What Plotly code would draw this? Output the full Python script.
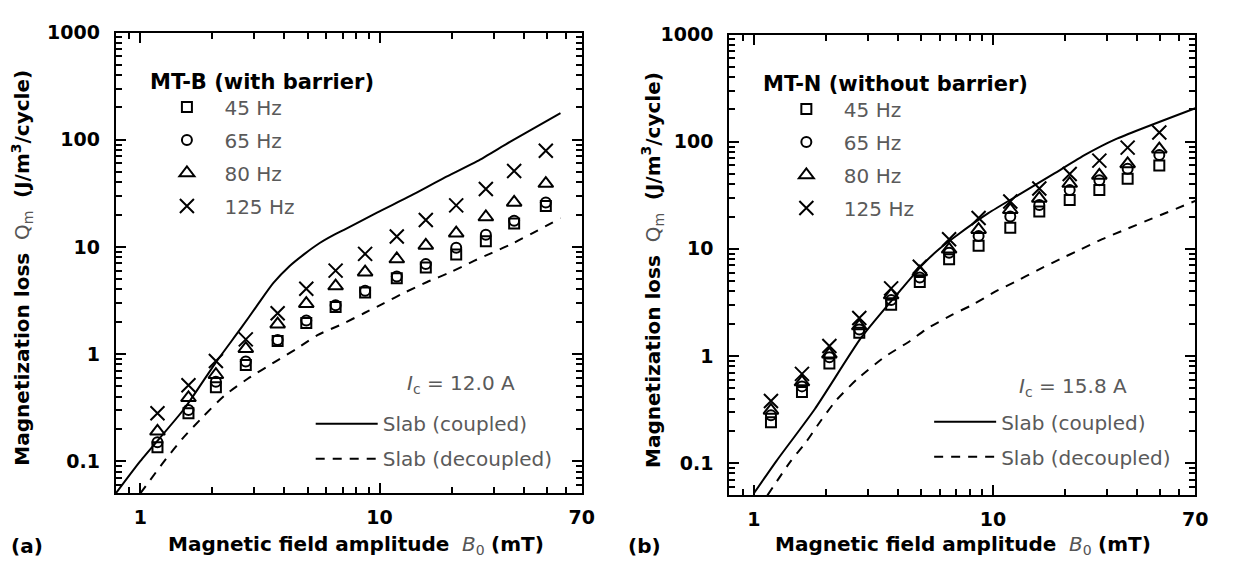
import math
import plotly.graph_objects as go

# ---------------- data ----------------
B0 = [1.18, 1.59, 2.07, 2.76, 3.75, 4.94, 6.55, 8.7, 11.8, 15.6, 20.9, 27.8, 36.5, 49.5]

# (a) MT-B (with barrier)
qa_45 = [0.135, 0.28, 0.49, 0.79, 1.32, 1.95, 2.75, 3.75, 5.1, 6.4, 8.5, 11.3, 16.5, 24]
qa_65 = [0.15, 0.30, 0.55, 0.85, 1.35, 2.05, 2.85, 3.9, 5.3, 6.9, 9.8, 13, 17.5, 26]
qa_80 = [0.19, 0.39, 0.64, 1.12, 1.9, 2.95, 4.3, 5.8, 7.7, 10.3, 13.4, 19, 26, 39]
qa_125 = [0.28, 0.51, 0.86, 1.37, 2.4, 4.07, 6.0, 8.6, 12.5, 17.8, 24.4, 34.7, 51, 79]

ca_x = [0.79, 1.0, 1.53, 2.05, 2.64, 3.1, 3.6, 4.2, 4.86, 5.6, 6.47, 7.1, 9.8, 13.5, 18.6, 25.6, 35.2, 57]
ca_y = [0.05, 0.10, 0.31, 0.81, 1.75, 2.9, 4.6, 6.6, 8.6, 10.8, 13.0, 14.4, 21, 30, 44, 63, 96, 177]
da_x = [1.0, 1.08, 1.26, 1.51, 1.83, 2.25, 2.82, 3.64, 4.5, 5.5, 6.9, 8.6, 10.4, 12.9, 15.8, 19.8, 24.8, 29.5, 36.4, 57]
da_y = [0.05, 0.063, 0.10, 0.165, 0.26, 0.41, 0.59, 0.84, 1.12, 1.5, 1.88, 2.4, 2.97, 3.8, 4.7, 5.8, 7.4, 8.8, 10.9, 18.5]

# (b) MT-N (without barrier)
qb_45 = [0.24, 0.46, 0.85, 1.65, 3.0, 4.9, 8.0, 10.7, 15.7, 22.3, 28.6, 35.3, 45, 60]
qb_65 = [0.28, 0.52, 0.97, 1.77, 3.33, 5.4, 9.2, 13.2, 20, 25.7, 35.3, 43.6, 56, 75]
qb_80 = [0.31, 0.57, 1.04, 1.9, 3.7, 6.06, 9.9, 15.1, 23.1, 29.5, 40.6, 48.4, 62, 85]
qb_125 = [0.38, 0.68, 1.24, 2.26, 4.27, 6.8, 12.3, 19.4, 27.6, 36.5, 50, 66.5, 88, 122]

cb_x = [1.0, 1.245, 1.8, 2.81, 3.73, 4.1, 5.1, 5.97, 6.98, 9.55, 13.1, 17.9, 24.4, 32.4, 70]
cb_y = [0.052, 0.105, 0.32, 1.48, 3.2, 4.1, 7.2, 10.0, 13.1, 21.5, 32.9, 50, 76, 105, 205]
db_x = [1.14, 1.43, 1.65, 1.9, 2.22, 2.72, 3.5, 4.5, 5.3, 6.76, 8.2, 10.2, 12.3, 15.3, 19, 23.3, 28.6, 70]
db_y = [0.05, 0.105, 0.156, 0.246, 0.39, 0.615, 0.97, 1.38, 1.8, 2.43, 3.0, 3.98, 4.9, 6.3, 8.0, 9.9, 12.3, 28]

series_names = ["45 Hz", "65 Hz", "80 Hz", "125 Hz"]
curve_names = ["Slab (coupled)", "Slab (decoupled)"]
panel_titles = ["MT-B (with barrier)", "MT-N (without barrier)"]
ic_labels = ["<i>I</i><sub>c</sub> = 12.0 A", "<i>I</i><sub>c</sub> = 15.8 A"]

x_ticks = [1, 10, 70]
x_ticktext = ["1", "10", "70"]
x_minor = [0.9, 2, 3, 4, 5, 6, 7, 8, 9, 20, 30, 40, 50, 60]
y_ticks = [0.1, 1, 10, 100, 1000]
y_ticktext = ["0.1", "1", "10", "100", "1000"]
y_minor = [0.06, 0.07, 0.08, 0.09] + [m * d for d in (0.1, 1, 10, 100) for m in range(2, 10)]

# ---------------- style ----------------
W, H = 1239, 563
F = "DejaVu Sans"
GRAY = "#5a5a5a"
symbols = ["square-open", "circle-open", "triangle-up-open", "x-thin-open"]
sizes = [10, 10, 13, 14]


def px(x):
    return x / W


def py(y):
    return 1 - y / H


fig = go.Figure()

panels = [
    dict(tag="a", xa="x", ya="y", ser=[qa_45, qa_65, qa_80, qa_125], cx=ca_x, cy=ca_y, dx=da_x, dy=da_y,
         leg="legend", leg2="legend3"),
    dict(tag="b", xa="x2", ya="y2", ser=[qb_45, qb_65, qb_80, qb_125], cx=cb_x, cy=cb_y, dx=db_x, dy=db_y,
         leg="legend2", leg2="legend4"),
]

for p in panels:
    for name, vals, sym, sz in zip(series_names, p["ser"], symbols, sizes):
        fig.add_trace(go.Scatter(
            x=B0, y=vals, mode="markers", name=name, xaxis=p["xa"], yaxis=p["ya"],
            legend=p["leg"], legendgroup=p["tag"] + name,
            marker=dict(symbol=sym, size=sz, color="black", line=dict(color="black", width=2)),
        ))
    fig.add_trace(go.Scatter(
        x=p["cx"], y=p["cy"], mode="lines", name=curve_names[0], xaxis=p["xa"], yaxis=p["ya"],
        legend=p["leg2"], legendgroup=p["tag"] + "c",
        line=dict(color="black", width=2, shape="spline", smoothing=0.6),
    ))
    fig.add_trace(go.Scatter(
        x=p["dx"], y=p["dy"], mode="lines", name=curve_names[1], xaxis=p["xa"], yaxis=p["ya"],
        legend=p["leg2"], legendgroup=p["tag"] + "d",
        line=dict(color="black", width=2, dash="9px,8px", shape="spline", smoothing=0.6),
    ))


def xaxis_cfg(d0, d1, anchor):
    return dict(
        type="log", range=[math.log10(0.79), math.log10(70)], domain=[px(d0), px(d1)], anchor=anchor,
        showline=True, linecolor="black", linewidth=2, mirror="allticks",
        ticks="inside", ticklen=10, tickwidth=2, tickcolor="black",
        tickmode="array", tickvals=x_ticks, ticktext=x_ticktext,
        tickfont=dict(family=F, size=19, color="black", weight="bold"),
        ticklabelstandoff=6,
        showgrid=False, zeroline=False,
        minor=dict(tickmode="array", tickvals=x_minor, ticks="inside", ticklen=6, tickwidth=1.5,
                   tickcolor="black", showgrid=False),
    )


def yaxis_cfg(top, bottom, anchor):
    return dict(
        type="log", range=[math.log10(0.05), 3], domain=[py(bottom), py(top)], anchor=anchor,
        showline=True, linecolor="black", linewidth=2, mirror="allticks",
        ticks="inside", ticklen=10, tickwidth=2, tickcolor="black",
        tickmode="array", tickvals=y_ticks, ticktext=y_ticktext,
        tickfont=dict(family=F, size=19, color="black", weight="bold"),
        ticklabelstandoff=10,
        showgrid=False, zeroline=False,
        minor=dict(tickmode="array", tickvals=y_minor, ticks="inside", ticklen=6, tickwidth=1.5,
                   tickcolor="black", showgrid=False),
    )


def make_legend(x, y, itemwidth, gap):
    return dict(
        x=px(x), y=py(y), xanchor="left", yanchor="top", xref="paper", yref="paper",
        bgcolor="rgba(0,0,0,0)", borderwidth=0,
        font=dict(family=F, size=20, color=GRAY),
        tracegroupgap=gap, itemwidth=itemwidth, traceorder="grouped",
    )


annotations = []


def add_text(x, y, text, size=20, color="black", xanchor="center", angle=0):
    annotations.append(dict(
        x=px(x), y=py(y), xref="paper", yref="paper", text=text, showarrow=False,
        xanchor=xanchor, yanchor="middle", textangle=angle,
        font=dict(family=F, size=size, color=color),
    ))


ytitle = ("<b>Magnetization loss</b>  <span style='color:#555'>Q<sub>m</sub></span>  "
          "<b>(J/m<sup>3</sup>/cycle)</b>")
xtitle = ("<b>Magnetic field amplitude</b>  <span style='color:#555'><i>B</i><sub>0</sub></span> "
          "<b>(mT)</b>")

add_text(23, 262, ytitle, angle=-90)
add_text(660, 264, ytitle, angle=-90)
add_text(360, 545, xtitle)
add_text(973, 545, xtitle)
add_text(27, 546, "<b>(a)</b>")
add_text(651, 546, "<b>(b)</b>")
add_text(150, 72, "<b>" + panel_titles[0] + "</b>", size=21, xanchor="left")
add_text(769, 74, "<b>" + panel_titles[1] + "</b>", size=21, xanchor="left")
add_text(409, 380, ic_labels[0], color=GRAY, xanchor="left")
add_text(1028, 383, ic_labels[1], color=GRAY, xanchor="left")

fig.update_layout(
    width=W, height=H,
    margin=dict(l=0, r=0, t=0, b=0),
    paper_bgcolor="white", plot_bgcolor="white",
    xaxis=xaxis_cfg(117, 588, "y"),
    yaxis=yaxis_cfg(22, 492, "x"),
    xaxis2=xaxis_cfg(737, 1208, "y2"),
    yaxis2=yaxis_cfg(24, 494, "x2"),
    legend=make_legend(151, 78, 65, 4),
    legend2=make_legend(777, 80, 65, 4),
    legend3=make_legend(314, 401, 62, 6),
    legend4=make_legend(939, 399, 62, 6),
    annotations=annotations,
    showlegend=True,
)

fig.write_html("out.html", config={"displayModeBar": False})
